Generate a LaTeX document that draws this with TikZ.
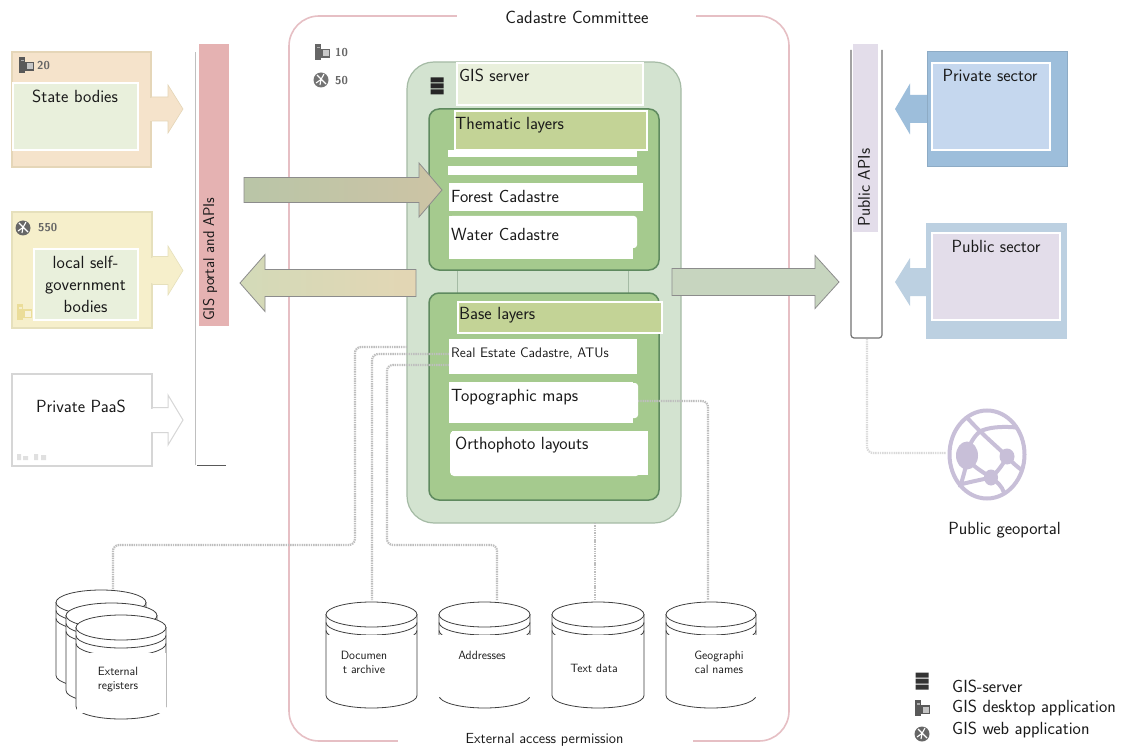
\documentclass[tikz,border=0pt]{standalone}
\usepackage{fontspec}
\usetikzlibrary{calc}
\definecolor{txt}{HTML}{1A1A1A}
\definecolor{lblgreen}{HTML}{E9F0DC}
\definecolor{lblolive}{HTML}{C3D396}
\definecolor{frame}{HTML}{E6BFC4}
\definecolor{srvfill}{HTML}{D3E3D0}
\definecolor{srvline}{HTML}{A5BBA5}
\definecolor{layfill}{HTML}{A5CA8E}
\definecolor{layline}{HTML}{5F8A5F}
\definecolor{dotc}{HTML}{BEBEBE}
\definecolor{statefill}{HTML}{F5E3CB}
\definecolor{stateline}{HTML}{E5D6B8}
\definecolor{localfill}{HTML}{F6EFCB}
\definecolor{localline}{HTML}{E6E0BC}
\definecolor{privline}{HTML}{D6D6D6}
\definecolor{pinkl}{HTML}{E5B2B2}
\definecolor{lilac}{HTML}{E3DDEA}
\definecolor{bluedark}{HTML}{9DBEDB}
\definecolor{bluelight}{HTML}{C5D7EE}
\definecolor{bluepale}{HTML}{BCD0E1}
\definecolor{globec}{HTML}{C8BFD8}
\definecolor{arrA}{HTML}{B9C5A7}
\definecolor{arrB}{HTML}{CDC4A5}
\definecolor{arrC}{HTML}{D3DAB8}
\definecolor{arrD}{HTML}{E3D6B4}
\definecolor{arrE}{HTML}{C7D5BF}
\definecolor{deskyellow}{HTML}{EBDD99}
\tikzset{
  x=1pt,y=-1pt,
  every node/.style={font=\sffamily\fontsize{17.6}{22}\selectfont,text=txt,inner sep=0pt},
  whitelabel/.style={draw=white,line width=1.2pt},
  plainwhite/.style={fill=white},
  dotline/.style={draw=dotc,line width=2.2pt,dash pattern=on 1.4pt off 0.9pt,rounded corners=6pt},
  count/.style={font=\sffamily\bfseries\fontsize{11.5}{13}\selectfont,text=black!60},
  small/.style={font=\sffamily\fontsize{12}{14}\selectfont,align=center},
  cylline/.style={draw=black!75,line width=0.8pt,fill=white},
}
\newcommand\bx[6]{\pgfmathsetmacro\bw{#5-#3}\pgfmathsetmacro\bh{#6-#4}%
  \node[#2,anchor=north west,outer sep=0pt,minimum width=\bw pt,minimum height=\bh pt] (#1) at (#3,#4) {};}
% arrow polygon: style, tail x, head-base x, tip x, mid y, shaft half, head half
\newcommand\blockarrow[7]{\pgfmathsetmacro\sa{#5-#6}\pgfmathsetmacro\sb{#5+#6}\pgfmathsetmacro\ha{#5-#7}\pgfmathsetmacro\hb{#5+#7}%
  \path[#1] (#2,\sa) -- (#3,\sa) -- (#3,\ha) -- (#4,#5) -- (#3,\hb) -- (#3,\sb) -- (#2,\sb) -- cycle;}
\newcommand\cyl[5]{\pgfmathsetmacro\xm{(#2+#3)/2}\pgfmathsetmacro\rx{(#3-#2)/2}\pgfmathsetmacro\ym{#4+12.5}\pgfmathsetmacro\yb{#5-12.5}%
  \pgfmathsetmacro\ya{\ym+8}\pgfmathsetmacro\yc{\ym+16}%
  \coordinate (#1) at (\xm,#4);
  \path[cylline] (#2,\ym) -- (#2,\yb) arc[start angle=180,end angle=360,x radius=\rx,y radius=-12.5] -- (#3,\ym) -- cycle;
  \path[cylline] (\xm,\ym) ellipse[x radius=\rx,y radius=12.5];
  \draw[black!75,line width=0.8pt] (#2,\ya) arc[start angle=180,end angle=360,x radius=\rx,y radius=-12.5];
  \draw[black!75,line width=0.8pt] (#2,\yc) arc[start angle=180,end angle=360,x radius=\rx,y radius=-12.5];}
\newcommand\deskicon[3]{\begin{scope}[shift={(#1,#2)}]
  \fill[#3] (-7,-8) rectangle (-1,8); \fill[#3] (-1,-3) rectangle (8,6);
  \fill[white,opacity=.65] (0.5,-1.5) rectangle (6.5,4.5);
  \fill[white,opacity=.5] (-5.5,-5) rectangle (-2.5,-3.5);\end{scope}}
\newcommand\webicon[3]{\begin{scope}[shift={(#1,#2)}]
  \fill[#3] (0,0) circle (7.5);
  \draw[white,line width=1.1pt] (-4,-5) -- (5,4) (-5,3) -- (0,-.5) -- (3,-6) (-1,5) -- (0,-.5);\end{scope}}
\newcommand\servericon[3]{\begin{scope}[shift={(#1,#2)}]
  \fill[#3] (-6.5,-8.5) rectangle (6.5,-3.5) (-6.5,-2.5) rectangle (6.5,2.5) (-6.5,3.5) rectangle (6.5,8.5);\end{scope}}
\begin{document}
\begin{tikzpicture}
\useasboundingbox (0,0) rectangle (1126,751);
\fill[white] (0,0) rectangle (1126,751);

% Outer committee frame
\draw[frame,line width=1.6pt,rounded corners=30pt] (289,16) rectangle (789,741);
\bx{maskt}{plainwhite}{457}{0}{696}{32}
\bx{maskb}{plainwhite}{398}{724}{693}{751}
\node (committee) at (577,17) {\fontsize{17.8}{20}\selectfont Cadastre Committee};
\node (permission) at (544.5,740) {\fontsize{14.6}{17}\selectfont External access permission};
\deskicon{322}{52}{black!60}
\node[count,anchor=west] (n10) at (335,53) {10};
\webicon{321}{80}{black!55}
\node[count,anchor=west] (n50) at (335,81) {50};

% GIS server panel
\draw[fill=srvfill,draw=srvline,line width=1.2pt,rounded corners=27pt] (407,62) rectangle (681,523);
\draw[srvline,line width=.7pt] (457,270) -- (457,293) (628,270) -- (628,293);
\draw[fill=layfill,draw=layline,line width=1.5pt,rounded corners=10pt] (429,109) rectangle (659,270);
\draw[fill=layfill,draw=layline,line width=1.5pt,rounded corners=10pt] (429,293) rectangle (659,500);
\servericon{437}{86}{black!85}

% Cylinders and dotted connectors
\coordinate (real1) at (407,347);
\coordinate (real2) at (449,354);
\coordinate (real3) at (449,365);
\coordinate (topoR) at (638,401);
\coordinate (baseS) at (595,523);
\coordinate (apiB) at (867,339);
\coordinate (globeW) at (946,453);
\cyl{ext1}{56}{146}{590}{688}
\cyl{ext2}{66}{157}{603}{703}
\cyl{ext3}{76}{166}{615}{719}
\cyl{doc}{326}{417}{602}{708}
\cyl{adr}{439}{530}{602}{708}
\cyl{tdata}{552}{644}{602}{708}
\cyl{geo}{666}{756}{602}{708}
\draw[dotline] (real1) -- (355,347) -- (355,545) -- (113,545) -- (113,589);
\draw[dotline] (real2) -- (372,354) -- (372,600);
\draw[dotline] (real3) -- (387,365) -- (387,545) -- (497,545) -- (497,600);
\draw[dotline] (baseS) -- (595,600);
\draw[dotline] (topoR) -- (708,401) -- (708,600);
\draw[dotline,draw=black!15] (apiB) -- (867,453) -- (globeW);

% Cylinder labels (white patches)
\bx{extp}{plainwhite}{77}{653}{166}{713}
\bx{docp}{plainwhite}{327}{635}{416}{695}
\bx{adrp}{plainwhite}{438}{635}{531}{697}
\bx{tdp}{plainwhite}{553}{635}{643}{695}
\bx{geop}{plainwhite}{667}{635}{757}{697}
\node[small] (extt) at (118,680) {External\\registers};
\node[small] (doct) at (364,662) {Documen\\t archive};
\node[small] (adrt) at (482,655) {Addresses};
\node[small] (tdt) at (594,668) {Text data};
\node[small] (geot) at (719,662) {Geographi\\cal names};

% Left sources
\bx{state}{fill=statefill,draw=stateline,line width=1.5pt}{12}{52}{151}{167}
\blockarrow{fill=statefill,draw=stateline,line width=.6pt}{151}{168}{183}{109}{12}{24}
\fill[statefill] (148,98) rectangle (152,121);
\deskicon{26}{65}{black!65}
\node[count,anchor=west] (n20) at (37,66) {20};
\bx{statel}{fill=lblgreen,whitelabel}{13}{83}{138}{150}
\node (statet) at (75,96) {State bodies};

\bx{local}{fill=localfill,draw=localline,line width=1.5pt}{12}{212}{152}{328}
\blockarrow{fill=localfill,draw=localline,line width=.6pt}{152}{168}{183}{270.5}{14}{24.5}
\fill[localfill] (149,258) rectangle (153,283);
\webicon{23}{228}{black!60}
\node[count,anchor=west] (n550) at (38,228) {550};
\deskicon{24}{312}{deskyellow}
\bx{locall}{fill=lblgreen,whitelabel}{34}{249}{138}{320}
\node[align=center] (localt) at (85.5,284) {local self-\\government\\bodies};

\bx{paas}{fill=white,draw=privline,line width=1.5pt}{12}{374}{152}{466}
\blockarrow{fill=white,draw=privline,line width=1pt}{152}{168}{183}{420}{12.5}{25}
\fill[white] (150,408.5) rectangle (153,431.5);
\fill[black!12] (17,454) rectangle (21,460) (23,456) rectangle (28,460) (34,454) rectangle (38,460) (41,455) rectangle (46,460);
\node (paast) at (81,406) {Private PaaS};

% GIS portal bar
\draw[black!25,line width=.8pt] (195,465) -- (195,52);
\draw[black!65,line width=1.2pt,rounded corners=1pt] (197,465.5) -- (226,465.5);
\bx{pink}{fill=pinkl}{199}{44}{229}{326}
\node[rotate=90,anchor=west] (portalt) at (210,321) {\fontsize{15.6}{18}\selectfont GIS portal and APIs};

% Big arrows
\blockarrow{left color=arrA,right color=arrB,draw=black!45,line width=.8pt}{244}{419}{442}{190}{12.5}{27}
\blockarrow{left color=arrC,right color=arrD,draw=black!45,line width=.8pt}{416}{265}{240}{283}{13.5}{28.5}
\blockarrow{fill=arrE,draw=black!45,line width=.8pt}{672}{815}{839}{282}{13.5}{26.5}

% Thematic content
\bx{srvl}{fill=lblgreen,whitelabel}{457}{63}{643}{105}
\node[anchor=west] (srvt) at (459,75) {GIS server};
\bx{row1}{fill=white}{448}{150}{637}{157}
\bx{row2}{fill=white}{448}{166}{637}{175}
\bx{thl}{fill=lblolive,whitelabel}{455}{111}{647}{150}
\node[anchor=west] (tht) at (455,125) {Thematic layers};
\bx{forest}{fill=white}{449}{183}{643}{211}
\node[anchor=west] (forestt) at (451,196.5) {Forest Cadastre};
\fill[white,rounded corners=3pt] (449,216) rectangle (637,248);
\bx{water}{fill=white}{449}{216}{633}{259}
\node[anchor=west] (watert) at (451,234.5) {Water Cadastre};

% Base content
\bx{basel}{fill=lblolive,whitelabel}{458}{302}{662}{333}
\node[anchor=west] (baset) at (459,315) {Base layers};
\bx{real}{fill=white}{449}{339}{637}{374}
\node[anchor=west,font=\sffamily\fontsize{13.8}{16}\selectfont] (realt) at (451,353) {Real Estate Cadastre, ATUs};
\fill[white,rounded corners=3pt] (449,383) rectangle (638,418);
\bx{topo}{fill=white}{449}{382}{633}{423}
\node[anchor=west] (topot) at (451,397) {Topographic maps};
\fill[white,rounded corners=4pt] (450,431) rectangle (640,476);
\bx{ortho}{fill=white}{452}{431}{648}{475}
\node[anchor=west] (orthot) at (455,445) {Orthophoto layouts};

% Public APIs bar
\draw[fill=white,draw=black!55,line width=1.2pt,rounded corners=3pt] (851,50) -- (851,338) -- (882,338) -- (882,50);
\bx{apil}{fill=lilac}{853}{44}{878}{232}
\node[rotate=90,anchor=west] (apit) at (864,227) {\fontsize{17}{20}\selectfont Public APIs};

% Right consumers
\blockarrow{fill=bluedark}{927}{910}{895}{109}{14}{25.5}
\bx{priv}{fill=bluedark,draw=bluedark!90!black,line width=1pt}{927}{52}{1067}{167}
\bx{privl}{fill=bluelight,whitelabel}{932}{63}{1050}{150}
\node (privt) at (990,75) {Private sector};
\blockarrow{fill=bluepale}{926}{910}{895}{282}{14}{24}
\bx{pub}{fill=bluepale}{926}{223}{1067}{339}
\bx{publ}{fill=lilac,whitelabel}{932}{233}{1060}{320}
\node (pubt) at (996,246) {Public sector};

% Globe
\begin{scope}[shift={(987,454.5)}]
  \draw[globec,line width=4pt] (0,0) ellipse[x radius=37.5,y radius=44];
  \draw[globec,line width=4pt] (-20,-37) .. controls (-5,-20) and (10,-8) .. (20,2) .. controls (25,8) and (30,12) .. (34,15)
     (-20,0) .. controls (-18,-12) and (-10,-22) .. (-5,-24) .. controls (5,-28) and (18,-28) .. (30,-27)
     (-20,0) .. controls (-20,12) and (-25,25) .. (-27,33)
     (-20,5) .. controls (-10,15) and (0,20) .. (4,23) .. controls (10,27) and (15,32) .. (17,38)
     (-27,30) .. controls (-15,27) and (-5,25) .. (4,23) .. controls (10,18) and (16,10) .. (20,2);
  \fill[globec] (-20,1) ellipse[x radius=11,y radius=14] (20,2) ellipse[x radius=7.5,y radius=8] (4,23) ellipse[x radius=7,y radius=8];
\end{scope}
\node (geoportal) at (1004.5,530) {Public geoportal};

% Legend
\servericon{922}{681}{black!80}
\deskicon{922}{708}{black!65}
\webicon{922}{734}{black!60}
\node[anchor=west] (lg1) at (952,686) {GIS-server};
\node[anchor=west] (lg2) at (952,708) {GIS desktop application};
\node[anchor=west] (lg3) at (952,730) {GIS web application};
\end{tikzpicture}
\end{document}
